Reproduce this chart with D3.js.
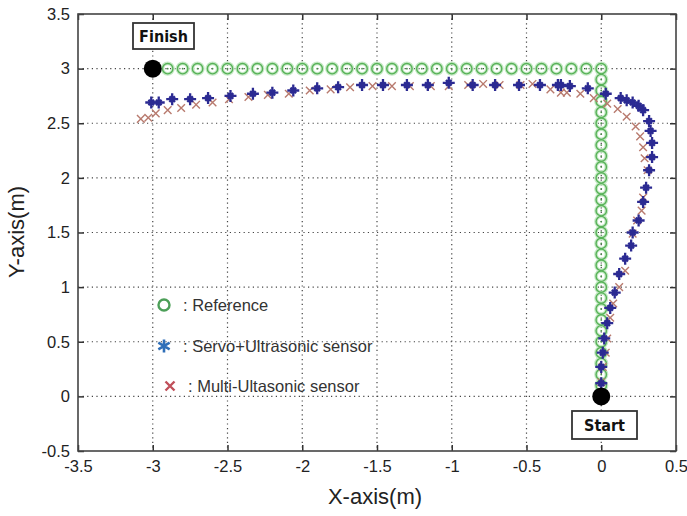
<!DOCTYPE html>
<html>
<head>
<meta charset="utf-8">
<script src="https://cdn.jsdelivr.net/npm/d3@7"></script>
<style>
  body { margin: 0; background: #fff; }
  svg { display: block; font-family: Arial, "Liberation Sans", sans-serif; }
</style>
</head>
<body>
<svg id="chart" width="687" height="516"></svg>
<script>
// reference path (m)
const referencePath = [
    [0, 0], [0, 0.1], [0, 0.2], [0, 0.3], [0, 0.4], [0, 0.5], [0, 0.6], [0, 0.7], [0, 0.8], [0, 0.9],
    [0, 1.0], [0, 1.1], [0, 1.2], [0, 1.3], [0, 1.4], [0, 1.5], [0, 1.6], [0, 1.7], [0, 1.8], [0, 1.9],
    [0, 2.0], [0, 2.1], [0, 2.2], [0, 2.3], [0, 2.4], [0, 2.5], [0, 2.6], [0, 2.7], [0, 2.8], [0, 2.9],
    [0, 3.0], [-0.1, 3], [-0.2, 3], [-0.3, 3], [-0.4, 3], [-0.5, 3], [-0.6, 3], [-0.7, 3], [-0.8, 3],
    [-0.9, 3], [-1.0, 3], [-1.1, 3], [-1.2, 3], [-1.3, 3], [-1.4, 3], [-1.5, 3], [-1.6, 3], [-1.7, 3],
    [-1.8, 3], [-1.9, 3], [-2.0, 3], [-2.1, 3], [-2.2, 3], [-2.3, 3], [-2.4, 3], [-2.5, 3], [-2.6, 3],
    [-2.7, 3], [-2.8, 3], [-2.9, 3]
];

// servo + ultrasonic sensor trajectory
const servoPath = [
    [0, 0.12], [0, 0.27], [0.01, 0.40], [0.02, 0.53], [0.04, 0.67], [0.06, 0.81], [0.09, 0.95],
    [0.12, 1.12], [0.16, 1.26], [0.20, 1.38], [0.21, 1.50], [0.25, 1.61], [0.28, 1.78], [0.30, 1.91],
    [0.32, 2.07], [0.34, 2.19], [0.34, 2.32], [0.33, 2.43], [0.32, 2.52], [0.28, 2.62], [0.25, 2.66],
    [0.21, 2.69], [0.17, 2.71], [0.13, 2.73], [0.03, 2.77], [-0.09, 2.82], [-0.21, 2.84], [-0.27, 2.85],
    [-0.29, 2.85], [-0.41, 2.85], [-0.55, 2.85], [-0.71, 2.85], [-0.86, 2.85], [-1.02, 2.87],
    [-1.16, 2.85], [-1.30, 2.85], [-1.46, 2.85], [-1.60, 2.85], [-1.76, 2.83], [-1.90, 2.82],
    [-2.06, 2.80], [-2.20, 2.78], [-2.33, 2.77], [-2.48, 2.75], [-2.63, 2.73], [-2.75, 2.72],
    [-2.87, 2.72], [-2.96, 2.69], [-3.01, 2.69]
];

// multi-ultrasonic sensor trajectory
const multiPath = [
    [0, 0.13], [0.01, 0.27], [0.03, 0.40], [0.04, 0.53], [0.06, 0.72], [0.08, 0.85], [0.12, 1.00],
    [0.16, 1.15], [0.21, 1.49], [0.24, 1.61], [0.27, 1.70], [0.28, 1.82], [0.31, 2.07], [0.29, 2.18],
    [0.28, 2.28], [0.26, 2.38], [0.23, 2.47], [0.17, 2.56], [0.11, 2.63], [0.04, 2.68], [-0.05, 2.73],
    [-0.14, 2.77], [-0.23, 2.78], [-0.27, 2.78], [-0.34, 2.81], [-0.46, 2.86], [-0.54, 2.85],
    [-0.68, 2.85], [-0.79, 2.86], [-0.89, 2.85], [-1.02, 2.84], [-1.14, 2.84], [-1.28, 2.84],
    [-1.40, 2.84], [-1.53, 2.84], [-1.68, 2.83], [-1.81, 2.81], [-1.95, 2.80], [-2.09, 2.77],
    [-2.23, 2.76], [-2.36, 2.74], [-2.49, 2.72], [-2.60, 2.69], [-2.71, 2.67], [-2.81, 2.64],
    [-2.90, 2.62], [-2.98, 2.59], [-3.03, 2.55], [-3.08, 2.54]
];

const endpoints = [
    { name: 'Finish', pos: [-3, 3] },
    { name: 'Start', pos: [0, 0] }
];
const legendItems = [': Reference', ': Servo+Ultrasonic sensor', ': Multi-Ultasonic sensor'];
const xTicks = [-3.5, -3, -2.5, -2, -1.5, -1, -0.5, 0, 0.5];
const yTicks = [-0.5, 0, 0.5, 1, 1.5, 2, 2.5, 3, 3.5];

const svg = d3.select('#chart');
const width = 687, height = 516;
const margin = { top: 14, right: 11, bottom: 65, left: 78 };

const x = d3.scaleLinear().domain([-3.5, 0.5]).range([margin.left, width - margin.right]);
const y = d3.scaleLinear().domain([-0.5, 3.5]).range([height - margin.bottom, margin.top]);

const fmt = d => String(d);

// grid
const grid = svg.append('g').attr('stroke', '#444').attr('stroke-width', 1.2)
    .attr('stroke-dasharray', '1.2,3.4');
grid.selectAll('.gx').data(xTicks.slice(1, -1)).enter().append('line')
    .attr('x1', d => x(d)).attr('x2', d => x(d))
    .attr('y1', y(3.5)).attr('y2', y(-0.5));
grid.selectAll('.gy').data(yTicks.slice(1, -1)).enter().append('line')
    .attr('y1', d => y(d)).attr('y2', d => y(d))
    .attr('x1', x(-3.5)).attr('x2', x(0.5));

// axes (ticks inward, MATLAB style)
function styleAxis(g) {
    g.select('.domain').remove();
    g.selectAll('line').attr('stroke', '#333').attr('stroke-width', 1.5);
    g.selectAll('text').attr('fill', '#222').style('font-size', '16.5px');
}
svg.append('g').attr('transform', `translate(0,${y(-0.5)})`)
    .call(d3.axisBottom(x).tickValues(xTicks).tickFormat(fmt).tickSizeInner(-6).tickSizeOuter(0).tickPadding(9))
    .call(styleAxis);
svg.append('g').attr('transform', `translate(${x(-3.5)},0)`)
    .call(d3.axisLeft(y).tickValues(yTicks).tickFormat(fmt).tickSizeInner(-6).tickSizeOuter(0).tickPadding(8))
    .call(styleAxis);
svg.append('g').attr('transform', `translate(0,${y(3.5)})`)
    .call(d3.axisTop(x).tickValues(xTicks).tickFormat('').tickSizeInner(-6).tickSizeOuter(0))
    .call(styleAxis);
svg.append('g').attr('transform', `translate(${x(0.5)},0)`)
    .call(d3.axisRight(y).tickValues(yTicks).tickFormat('').tickSizeInner(-6).tickSizeOuter(0))
    .call(styleAxis);

svg.append('rect')
    .attr('x', x(-3.5)).attr('y', y(3.5))
    .attr('width', x(0.5) - x(-3.5)).attr('height', y(-0.5) - y(3.5))
    .attr('fill', 'none').attr('stroke', '#444').attr('stroke-width', 1.6);

// reference circles
const refG = svg.append('g');
refG.selectAll('.halo').data(referencePath).enter().append('circle')
    .attr('cx', d => x(d[0])).attr('cy', d => y(d[1])).attr('r', 5.2)
    .attr('fill', 'none').attr('stroke', '#c6e9c6').attr('stroke-width', 3.8);
refG.selectAll('.ring').data(referencePath).enter().append('circle')
    .attr('cx', d => x(d[0])).attr('cy', d => y(d[1])).attr('r', 5.2)
    .attr('fill', 'none').attr('stroke', '#58b258').attr('stroke-width', 1.4);
refG.selectAll('.dot').data(referencePath).enter().append('circle')
    .attr('cx', d => x(d[0])).attr('cy', d => y(d[1])).attr('r', 0.9)
    .attr('fill', '#4a8f4a');

// cross marks
const crossPath = s => `M${-s},${-s}L${s},${s}M${-s},${s}L${s},${-s}`;
const starPath = (s, t) => `M${-s},0L${s},0M0,${-s}L0,${s}M${-t},${-t}L${t},${t}M${-t},${t}L${t},${-t}`;

svg.append('g').selectAll('path').data(multiPath).enter().append('path')
    .attr('transform', d => `translate(${x(d[0])},${y(d[1])})`)
    .attr('d', crossPath(3.8))
    .attr('fill', 'none').attr('stroke', '#b87a6e').attr('stroke-width', 1.4);

svg.append('g').selectAll('path').data(servoPath).enter().append('path')
    .attr('transform', d => `translate(${x(d[0])},${y(d[1])})`)
    .attr('d', starPath(6, 2.8))
    .attr('fill', 'none').attr('stroke', '#2b2a92').attr('stroke-width', 2.3);

// start / finish
const ep = svg.append('g');
ep.selectAll('circle').data(endpoints).enter().append('circle')
    .attr('cx', d => x(d.pos[0])).attr('cy', d => y(d.pos[1])).attr('r', 9)
    .attr('fill', '#000');

const boxes = [
    { name: 'Finish', x0: 133, y0: 23, w: 61, h: 26 },
    { name: 'Start', x0: 572, y0: 411, w: 65, h: 28 }
];
const bg = svg.append('g').selectAll('g').data(boxes).enter().append('g');
bg.append('rect')
    .attr('x', d => d.x0).attr('y', d => d.y0).attr('width', d => d.w).attr('height', d => d.h)
    .attr('fill', '#fff').attr('stroke', '#333').attr('stroke-width', 1.8);
bg.append('text')
    .attr('x', d => d.x0 + d.w / 2).attr('y', d => d.y0 + d.h / 2)
    .attr('text-anchor', 'middle').attr('dy', '0.36em')
    .style('font-family', '"DejaVu Sans Condensed", "DejaVu Sans", sans-serif')
    .style('font-weight', 'bold').style('font-size', '16px').attr('fill', '#111')
    .text(d => d.name);

// legend
const legend = svg.append('g');
const ly = [305, 346, 386];
legend.append('circle').attr('cx', 164).attr('cy', ly[0]).attr('r', 5.5)
    .attr('fill', 'none').attr('stroke', '#4c9f58').attr('stroke-width', 2.4);
legend.append('path').attr('transform', `translate(164,${ly[1]})`)
    .attr('d', d3.symbol(d3.symbolAsterisk, 120)())
    .attr('fill', 'none').attr('stroke', '#2f6fb8').attr('stroke-width', 2.6);
legend.append('path').attr('transform', `translate(170,${ly[2]})`)
    .attr('d', crossPath(4.5))
    .attr('fill', 'none').attr('stroke', '#c0505a').attr('stroke-width', 2.4);
legend.selectAll('text').data(legendItems).enter().append('text')
    .attr('x', (d, i) => i === 2 ? 188 : 183).attr('y', (d, i) => ly[i]).attr('dy', '0.36em')
    .style('font-size', '16.5px').attr('fill', '#333')
    .text(d => d);

// axis titles
svg.append('text').attr('x', 375).attr('y', 504).attr('text-anchor', 'middle')
    .style('font-size', '22px').attr('fill', '#222').text('X-axis(m)');
svg.append('text').attr('transform', 'translate(24,232) rotate(-90)').attr('text-anchor', 'middle')
    .style('font-size', '22px').attr('fill', '#222').text('Y-axis(m)');
</script>
</body>
</html>
